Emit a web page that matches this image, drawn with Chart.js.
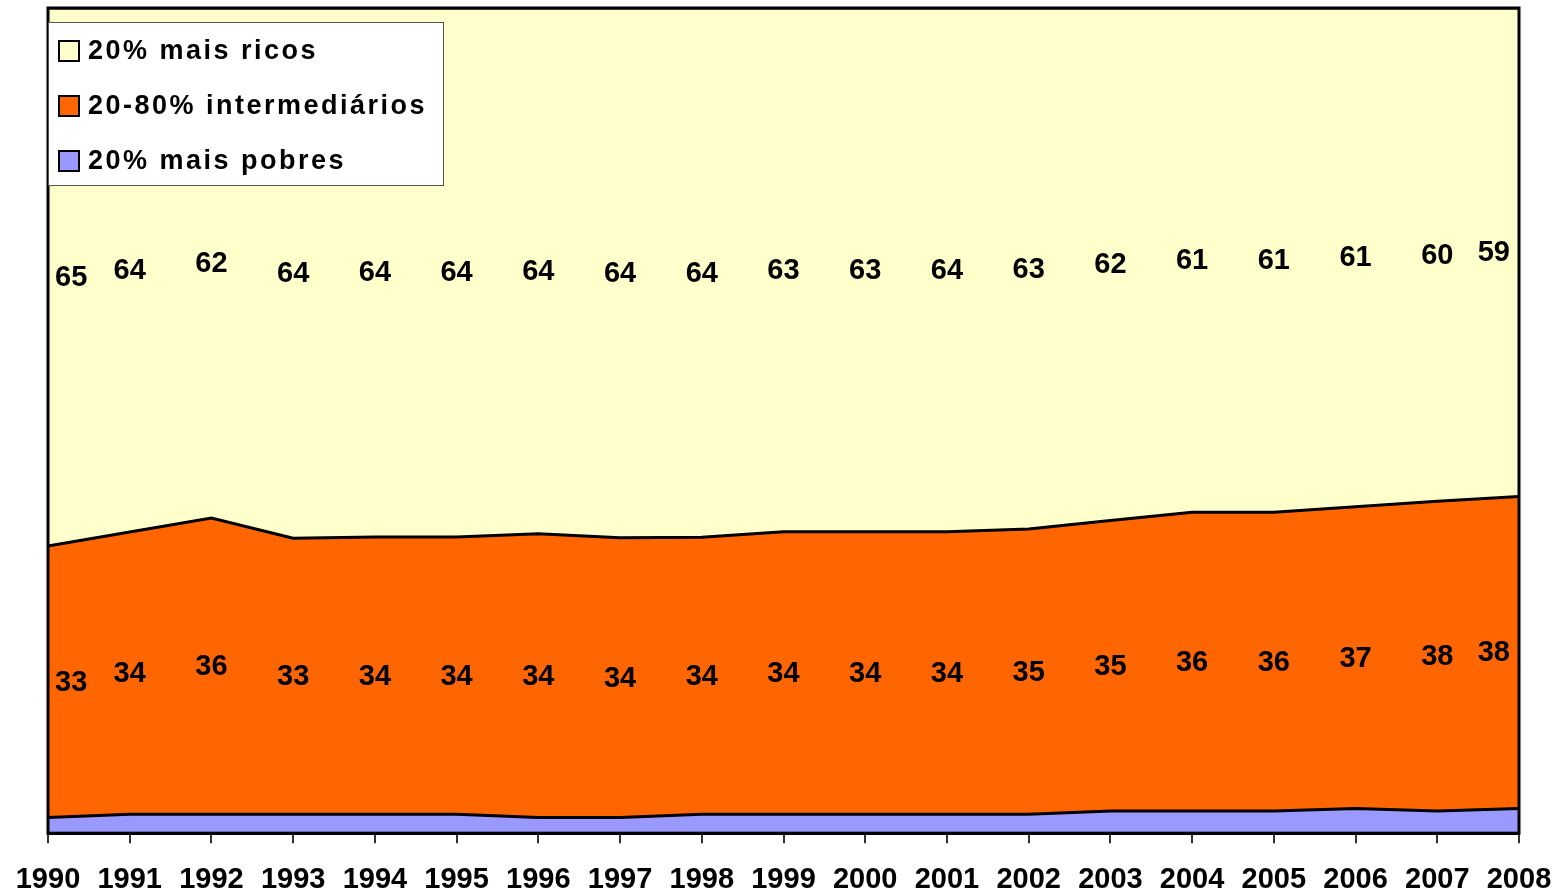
<!DOCTYPE html>
<html>
<head>
<meta charset="utf-8">
<script src="https://cdn.jsdelivr.net/npm/chart.js@4/dist/chart.umd.min.js"></script>
<style>
    body { margin: 0; background: #fff; }
</style>
</head>
<body>
<canvas id="grafico" width="1559" height="893"></canvas>
<script>
const anos = ['1990', '1991', '1992', '1993', '1994', '1995', '1996', '1997', '1998', '1999',
    '2000', '2001', '2002', '2003', '2004', '2005', '2006', '2007', '2008'];
const maisPobres = [1.9, 2.3, 2.3, 2.3, 2.3, 2.3, 1.9, 1.9, 2.3, 2.3, 2.3, 2.3, 2.3, 2.7, 2.7, 2.7, 3.0, 2.7, 3.0];
const intermediarios = [32.9, 34.2, 35.9, 33.4, 33.6, 33.6, 34.4, 33.9, 33.6, 34.2, 34.2, 34.3, 34.6, 35.2, 36.2, 36.2, 36.6, 37.6, 37.8];
const maisRicos = [65.2, 63.5, 61.8, 64.2, 64.1, 64.1, 63.7, 64.2, 64.2, 63.4, 63.4, 63.6, 63.2, 62.1, 61.1, 61.1, 60.5, 59.9, 59.2];

const FONTE = '"Liberation Sans", Arial, sans-serif';

// grafico 100% empilhado: cada ano soma 100
function percentual(serie) {
    let res = [];
    for (let i = 0; i < serie.length; i++) {
        let total = maisPobres[i] + intermediarios[i] + maisRicos[i];
        res.push(serie[i] / total * 100);
    }
    return res;
}

// rotulos no meio de cada faixa
const rotulos = {
    id: 'rotulos',
    afterDatasetsDraw(chart) {
        const ctx = chart.ctx;
        const area = chart.chartArea;
        ctx.save();
        ctx.font = 'bold 29px ' + FONTE;
        ctx.fillStyle = '#000';
        ctx.textAlign = 'center';
        ctx.textBaseline = 'middle';
        chart.data.datasets.forEach(function (ds, d) {
            if (!ds.mostrarRotulo) return;
            let meta = chart.getDatasetMeta(d);
            let metaAbaixo = d > 0 ? chart.getDatasetMeta(d - 1) : null;
            for (let i = 0; i < meta.data.length; i++) {
                let topo = meta.data[i].y;
                let base = metaAbaixo ? metaAbaixo.data[i].y : area.bottom;
                let texto = String(Math.round(ds.valores[i]));
                let w = ctx.measureText(texto).width;
                let x = meta.data[i].x;
                x = Math.max(area.left + w / 2 + 7, Math.min(area.right - w / 2 - 9, x));
                ctx.fillText(texto, x, (topo + base) / 2 + 1);
            }
        });
        ctx.restore();
    }
};

// moldura da area do grafico, marcas do eixo x e legenda dentro do grafico
const moldura = {
    id: 'moldura',
    afterDraw(chart) {
        const ctx = chart.ctx;
        const area = chart.chartArea;
        const eixoX = chart.scales.x;
        ctx.save();
        ctx.strokeStyle = '#333';
        ctx.lineWidth = 2;
        for (let i = 0; i < eixoX.ticks.length; i++) {
            let x = Math.round(eixoX.getPixelForTick(i));
            ctx.beginPath();
            ctx.moveTo(x, area.bottom);
            ctx.lineTo(x, area.bottom + 10);
            ctx.stroke();
        }

        ctx.strokeStyle = '#000';
        ctx.lineWidth = 3;
        ctx.strokeRect(area.left, area.top, area.right - area.left, area.bottom - area.top);

        let lx = area.left, ly = 22, lw = 395, lh = 163;
        ctx.fillStyle = '#fff';
        ctx.fillRect(lx, ly, lw, lh);
        ctx.strokeStyle = '#555';
        ctx.lineWidth = 1;
        ctx.strokeRect(lx + 0.5, ly + 0.5, lw, lh);

        ctx.font = 'bold 27px ' + FONTE;
        ctx.letterSpacing = '2.5px';
        ctx.textBaseline = 'middle';
        let itens = chart.data.datasets.slice().reverse();
        for (let i = 0; i < itens.length; i++) {
            let cy = 51 + i * 55;
            ctx.fillStyle = itens[i].backgroundColor;
            ctx.fillRect(59, cy - 10, 20, 20);
            ctx.strokeStyle = '#000';
            ctx.lineWidth = 2;
            ctx.strokeRect(59, cy - 10, 20, 20);
            ctx.fillStyle = '#000';
            ctx.fillText(itens[i].label, 88, cy + 1);
        }
        ctx.restore();
    }
};

const myChart = new Chart(document.getElementById('grafico'), {
    type: 'line',
    data: {
        labels: anos,
        datasets: [{
            label: '20% mais pobres',
            data: percentual(maisPobres),
            valores: maisPobres,
            mostrarRotulo: false,
            backgroundColor: '#9999FF',
            fill: 'origin'
        }, {
            label: '20-80% intermediários',
            data: percentual(intermediarios),
            valores: intermediarios,
            mostrarRotulo: true,
            backgroundColor: '#FF6600',
            fill: '-1'
        }, {
            label: '20% mais ricos',
            data: percentual(maisRicos),
            valores: maisRicos,
            mostrarRotulo: true,
            backgroundColor: '#FFFFCC',
            fill: '-1'
        }]
    },
    options: {
        responsive: false,
        animation: false,
        layout: {
            padding: {left: 48, right: 40, top: 8, bottom: -10}
        },
        elements: {
            line: {borderColor: '#000', borderWidth: 3, tension: 0},
            point: {radius: 0, hoverRadius: 0}
        },
        plugins: {
            legend: {display: false},
            tooltip: {enabled: false}
        },
        scales: {
            x: {
                offset: false,
                grid: {drawOnChartArea: false, drawTicks: true, tickLength: 23, tickColor: 'rgba(0,0,0,0)'},
                border: {display: true, color: '#000', width: 3},
                ticks: {
                    color: '#000',
                    maxRotation: 0,
                    autoSkip: false,
                    padding: 6,
                    font: {family: FONTE, size: 29, weight: 'bold'}
                }
            },
            y: {
                display: false,
                stacked: true,
                min: 0,
                max: 100
            }
        }
    },
    plugins: [rotulos, moldura]
});
</script>
</body>
</html>
